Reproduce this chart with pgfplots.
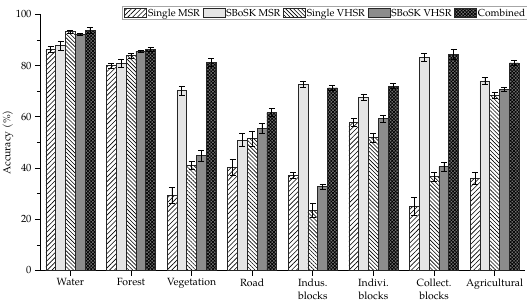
\documentclass[border=0pt]{standalone}
\usepackage{fontspec}
\setmainfont{TeX Gyre Pagella}
\usepackage{pgfplots}
\pgfplotsset{compat=1.18}
\usepackage{pgfplotstable}
\usetikzlibrary{patterns.meta}

% Mean accuracy (%) and its spread for each land-cover class
\pgfplotstableread{
x msr  msre sms  smse vh   vhe svh  svhe comb combe
0 86.2 1.2  87.8 1.8  93.2 0.5 92.1 0.5  93.8 1.2
1 79.9 1.0  80.9 1.5  83.9 1.0 85.6 0.5  86.2 0.8
2 29.4 3.0  70.2 1.8  41.0 1.5 44.8 2.2  81.2 1.5
3 40.3 3.0  50.9 2.5  51.5 3.0 55.5 1.8  61.6 1.5
4 37.1 1.3  72.7 1.3  23.6 2.8 32.8 1.0  71.3 0.8
5 57.7 1.5  67.6 1.3  51.9 1.8 59.3 1.3  72.0 1.0
6 25.0 3.5  83.1 1.5  36.7 1.8 40.5 1.8  84.4 1.8
7 36.0 2.2  74.0 1.5  68.4 1.2 70.7 0.8  81.0 1.0
}\accdata

\begin{document}
\begin{tikzpicture}
\begin{axis}[
  name=ax,
  scale only axis,
  width=485bp, height=256.2bp,
  ybar=0pt, bar width=9.8bp,
  xmin=-0.5, xmax=7.5, ymin=0, ymax=100,
  axis x line*=bottom, axis y line*=left,
  axis line style={line width=0.8pt, black},
  xtick={0,...,7},
  xticklabels={Water,Forest,Vegetation,Road,Indus.\\blocks,Indivi.\\blocks,Collect.\\blocks,Agricultural},
  xticklabel style={align=center, font=\fontsize{10.5}{13}\selectfont, yshift=0.5bp},
  yticklabel style={font=\fontsize{10.5}{12}\selectfont},
  ytick={0,20,...,100}, minor y tick num=1,
  tick align=outside,
  major tick length=5bp, minor tick length=3bp,
  tick style={line width=0.7pt, black},
  /pgf/number format/assume math mode=true,
  ylabel={Accuracy (\%)},
  every axis y label/.style={at={(axis description cs:-0.066,0.5)}, rotate=90, anchor=center, font=\fontsize{10.5}{12}\selectfont},
  legend columns=-1,
  legend image code/.code={\draw[#1] (0bp,-4.5bp) rectangle (22bp,4.5bp);},
  legend style={at={(axis description cs:0.169,1.032)}, anchor=north west,
    draw=gray!70, line width=0.9pt, inner xsep=2bp, inner ysep=1.2bp,
    font=\fontsize{10.2}{12}\selectfont,
    nodes={inner sep=1bp},
    /tikz/every even column/.append style={column sep=1.8bp}},
  every axis plot/.append style={draw=black!85, line width=0.6pt},
  error bars/y dir=both, error bars/y explicit,
  error bars/error bar style={line width=0.7pt, black},
  error bars/error mark options={rotate=90, mark size=3bp, line width=0.7pt, black},
]
\addplot[fill=white, postaction={pattern={Lines[angle=45,distance=3.4pt,line width=0.6pt]}}]
  table[x=x, y=msr, y error=msre]{\accdata};
\addplot[fill=black!10]
  table[x=x, y=sms, y error=smse]{\accdata};
\addplot[fill=white, postaction={pattern={Lines[angle=-45,distance=2.8pt,line width=0.6pt]}}]
  table[x=x, y=vh, y error=vhe]{\accdata};
\addplot[fill=black!45]
  table[x=x, y=svh, y error=svhe]{\accdata};
\addplot[fill=black!55, postaction={pattern={Hatch[angle=45,distance=2.4pt,line width=0.7pt]}}]
  table[x=x, y=comb, y error=combe]{\accdata};
\legend{Single MSR, SBoSK MSR, Single VHSR, SBoSK VHSR, Combined}
\end{axis}
\pgfresetboundingbox
\path[use as bounding box] ([shift={(-40bp,-32.5bp)}]ax.south west) rectangle ([shift={(2bp,14.3bp)}]ax.north east);
\end{tikzpicture}
\end{document}
